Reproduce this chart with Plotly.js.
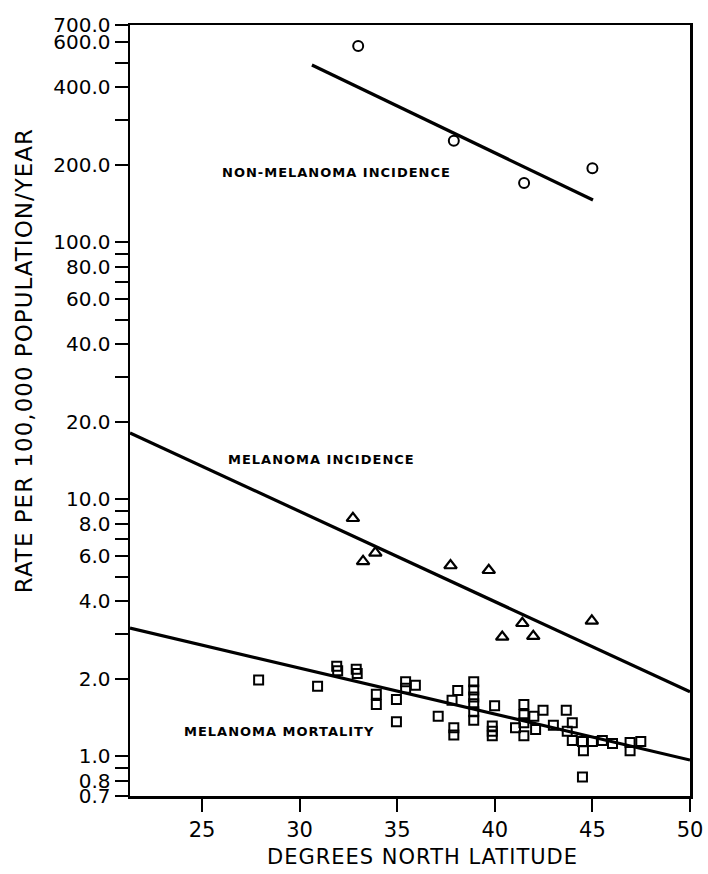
<!DOCTYPE html>
<html>
<head>
<meta charset="utf-8">
<script src="https://cdn.plot.ly/plotly-3.0.1.min.js"></script>
<style>
  html, body { margin: 0; padding: 0; background: #fff; }
  #chart { width: 708px; height: 874px; }
  .annotation-text { letter-spacing: 1px; }
</style>
</head>
<body>
<div id="chart"></div>
<script>
// ---- Data ----
// Non-melanoma incidence (circles)
var nonMelX = [33.0, 37.9, 41.5, 45.0];
var nonMelY = [580, 248, 170, 194];
// Non-melanoma fitted line
var nonMelLineX = [30.63, 45.03];
var nonMelLineY = [489, 146];

// Melanoma incidence (triangles)
var melIncX = [32.73, 33.88, 33.25, 37.73, 39.69, 41.41, 40.38, 41.97, 44.97];
var melIncY = [8.43, 6.18, 5.73, 5.52, 5.29, 3.29, 2.91, 2.93, 3.36];
// Melanoma incidence fitted line
var melIncLineX = [21.31, 50];
var melIncLineY = [18.1, 1.78];

// Melanoma mortality (squares)
var melMortX = [27.9, 30.92, 31.9, 31.95, 32.9, 32.95, 33.93, 33.93, 34.96, 34.96,
  35.43, 35.43, 35.93, 37.1, 37.9, 37.9, 37.81, 38.1, 38.92, 38.92,
  38.92, 38.92, 38.92, 38.92, 39.87, 39.87, 39.87, 39.99, 41.49, 41.49,
  41.49, 41.06, 41.49, 42.0, 42.09, 42.47, 43.0, 43.66, 43.97, 43.71,
  43.97, 44.49, 44.54, 45.0, 45.51, 46.03, 46.93, 46.93, 47.48, 44.49];
var melMortY = [1.98, 1.87, 2.24, 2.15, 2.18, 2.10, 1.74, 1.59, 1.66, 1.36,
  1.95, 1.84, 1.89, 1.43, 1.29, 1.21, 1.65, 1.80, 1.95, 1.81,
  1.70, 1.60, 1.49, 1.38, 1.31, 1.25, 1.20, 1.57, 1.59, 1.45,
  1.35, 1.29, 1.20, 1.43, 1.27, 1.51, 1.32, 1.51, 1.35, 1.25,
  1.15, 1.14, 1.05, 1.14, 1.15, 1.12, 1.13, 1.05, 1.14, 0.83];
// Melanoma mortality fitted line
var melMortLineX = [21.31, 50];
var melMortLineY = [3.15, 0.966];

// Axis ticks
var xTickVals = [25, 30, 35, 40, 45, 50];
var yTickVals = [0.7, 0.8, 0.9, 1, 2, 3, 4, 5, 6, 7, 8, 9, 10, 20, 30, 40, 50, 60, 70, 80, 90, 100, 200, 300, 400, 500, 600, 700];
var yTickText = ['0.7', '0.8', '', '1.0', '2.0', '', '4.0', '', '6.0', '', '8.0', '', '10.0', '20.0', '', '40.0', '', '60.0', '', '80.0', '', '100.0', '200.0', '', '400.0', '', '600.0', '700.0'];

var xRange = [21.31, 50];
var yRange = [0.7, 700];

// Labels
var labelTexts = ['NON-MELANOMA INCIDENCE', 'MELANOMA INCIDENCE', 'MELANOMA MORTALITY'];
var labelX = [31.89, 31.12, 28.92];
var labelY = [186, 14.3, 1.25];
var xTitle = 'DEGREES NORTH LATITUDE';
var yTitle = 'RATE PER 100,000 POPULATION/YEAR';

// ---- Chart ----
var FONT = 'DejaVu Sans, sans-serif';
var lineStyle = {color: '#000', width: 3.2};

var traces = [
  {x: nonMelLineX, y: nonMelLineY, mode: 'lines', line: lineStyle, hoverinfo: 'skip'},
  {x: melIncLineX, y: melIncLineY, mode: 'lines', line: lineStyle, hoverinfo: 'skip'},
  {x: melMortLineX, y: melMortLineY, mode: 'lines', line: lineStyle, hoverinfo: 'skip'},
  {x: nonMelX, y: nonMelY, mode: 'markers',
   marker: {symbol: 'circle-open', size: 10, color: '#000', line: {width: 2, color: '#000'}}},
  {x: melIncX, y: melIncY, mode: 'markers',
   marker: {symbol: 'triangle-up-open', size: 11, color: '#000', line: {width: 2.2, color: '#000'}}},
  {x: melMortX, y: melMortY, mode: 'markers',
   marker: {symbol: 'square-open', size: 9, color: '#000', line: {width: 2, color: '#000'}}}
];

var annotations = labelTexts.map(function (t, i) {
  return {text: '<b>' + t + '</b>', x: labelX[i], y: Math.log10(labelY[i]), xref: 'x', yref: 'y',
    showarrow: false, xanchor: 'center', yanchor: 'middle',
    font: {family: FONT, size: 13, color: '#000'}};
});
annotations.push({text: xTitle, xref: 'paper', yref: 'paper', x: 0.523, y: 0,
  yshift: -61, showarrow: false, xanchor: 'center', yanchor: 'middle',
  font: {family: FONT, size: 21, color: '#000'}});
annotations.push({text: yTitle, xref: 'paper', yref: 'paper', x: 0, y: 0.564,
  xshift: -106, showarrow: false, xanchor: 'center', yanchor: 'middle', textangle: -90,
  font: {family: FONT, size: 23, color: '#000'}});

var layout = {
  width: 708, height: 874,
  margin: {l: 130, r: 18, t: 25, b: 78},
  paper_bgcolor: '#fff', plot_bgcolor: '#fff',
  showlegend: false,
  xaxis: {
    range: xRange, tickvals: xTickVals, ticktext: xTickVals.map(String),
    ticks: 'outside', ticklen: 13, tickwidth: 2, tickcolor: '#000',
    showline: true, linewidth: 2.5, linecolor: '#000', mirror: true,
    showgrid: false, zeroline: false,
    tickfont: {family: FONT, size: 21, color: '#000'}
  },
  yaxis: {
    type: 'log', range: [Math.log10(yRange[0]), Math.log10(yRange[1])],
    tickvals: yTickVals, ticktext: yTickText,
    ticks: 'outside', ticklen: 13, tickwidth: 2, tickcolor: '#000',
    showline: true, linewidth: 2.5, linecolor: '#000', mirror: true,
    showgrid: false, zeroline: false,
    tickfont: {family: FONT, size: 20, color: '#000'}
  },
  annotations: annotations
};

Plotly.newPlot('chart', traces, layout, {staticPlot: true, displayModeBar: false});
</script>
</body>
</html>
